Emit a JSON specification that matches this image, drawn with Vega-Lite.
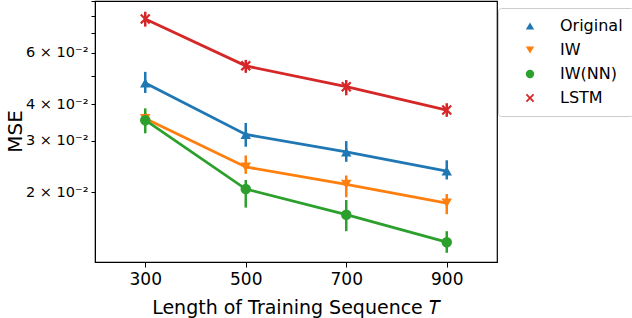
{
  "$schema": "https://vega.github.io/schema/vega-lite/v6.json",
  "width": 402,
  "height": 261,
  "autosize": {"type": "none"},
  "padding": {"left": 95, "top": 1, "right": 135, "bottom": 56},
  "background": "white",
  "config": {
    "font": "DejaVu Sans",
    "view": {"stroke": "black", "strokeWidth": 1.2},
    "axis": {"grid": false, "domainColor": "black", "tickColor": "black", "labelColor": "black", "titleColor": "black", "labelFont": "DejaVu Sans", "titleFont": "DejaVu Sans", "titleFontWeight": "normal"},
    "legend": {"title": null, "orient": "none", "legendX": 403, "legendY": 7, "padding": 10, "symbolOffset": 14, "labelOffset": 22, "labelFontSize": 16, "labelFont": "DejaVu Sans", "labelColor": "black", "rowPadding": 8, "strokeColor": "#cccccc", "fillColor": "white", "cornerRadius": 3, "symbolSize": 70, "symbolStrokeWidth": 0}
  },
  "data": {
    "values": [
      {"T": 300, "series": "Original", "mse": 0.0473, "lo": 0.0437, "hi": 0.0516},
      {"T": 500, "series": "Original", "mse": 0.0315, "lo": 0.0286, "hi": 0.0345},
      {"T": 700, "series": "Original", "mse": 0.02745, "lo": 0.0254, "hi": 0.0299},
      {"T": 900, "series": "Original", "mse": 0.02362, "lo": 0.0221, "hi": 0.0257},
      {"T": 300, "series": "IW", "mse": 0.0357, "lo": 0.0339, "hi": 0.0373},
      {"T": 500, "series": "IW", "mse": 0.02438, "lo": 0.0231, "hi": 0.0267},
      {"T": 700, "series": "IW", "mse": 0.02127, "lo": 0.0192, "hi": 0.0228},
      {"T": 900, "series": "IW", "mse": 0.01835, "lo": 0.0168, "hi": 0.0197},
      {"T": 300, "series": "IW(NN)", "mse": 0.03526, "lo": 0.0318, "hi": 0.0387},
      {"T": 500, "series": "IW(NN)", "mse": 0.02049, "lo": 0.0177, "hi": 0.022},
      {"T": 700, "series": "IW(NN)", "mse": 0.01674, "lo": 0.0147, "hi": 0.0188},
      {"T": 900, "series": "IW(NN)", "mse": 0.01348, "lo": 0.0124, "hi": 0.0147},
      {"T": 300, "series": "LSTM", "mse": 0.0783, "lo": 0.0737, "hi": 0.0829},
      {"T": 500, "series": "LSTM", "mse": 0.0541, "lo": 0.0512, "hi": 0.0567},
      {"T": 700, "series": "LSTM", "mse": 0.0459, "lo": 0.0429, "hi": 0.0484},
      {"T": 900, "series": "LSTM", "mse": 0.0382, "lo": 0.0362, "hi": 0.0403}
    ]
  },
  "encoding": {
    "x": {
      "field": "T", "type": "quantitative",
      "scale": {"domain": [200, 1000], "nice": false, "zero": false},
      "axis": {"values": [300, 500, 700, 900], "labelFontSize": 17, "tickSize": 5, "labelPadding": 4, "title": "Length of Training Sequence 𝑇", "titleFontSize": 19, "titleY": 51, "titleBaseline": "alphabetic", "titleX": 201, "labelFlush": false}
    },
    "color": {
      "field": "series", "type": "nominal",
      "scale": {"domain": ["Original", "IW", "IW(NN)", "LSTM"], "range": ["#1f77b4", "#ff7f0e", "#2ca02c", "#d62728"]}
    }
  },
  "layer": [
    {
      "mark": {"type": "line", "strokeWidth": 2.8},
      "encoding": {
        "y": {
          "field": "mse", "type": "quantitative",
          "scale": {"type": "log", "domain": [0.01153, 0.0902], "nice": false},
          "axis": {"values": [0.02, 0.03, 0.04, 0.05, 0.06, 0.07, 0.08, 0.09], "labelExpr": "round(datum.value*100)==2?'2 × 10⁻²':round(datum.value*100)==3?'3 × 10⁻²':round(datum.value*100)==4?'4 × 10⁻²':round(datum.value*100)==6?'6 × 10⁻²':''", "labelFontSize": 14.5, "tickSize": 4, "labelPadding": 3, "title": "MSE", "titleFontSize": 20, "titleX": -80, "titleY": 130, "titleAngle": -90, "titleBaseline": "middle", "titleAlign": "center"}
        },
        "detail": {"field": "series"}
      }
    },
    {
      "mark": {"type": "rule", "strokeWidth": 2.5},
      "encoding": {
        "y": {"field": "lo", "type": "quantitative"},
        "y2": {"field": "hi"}
      }
    },
    {
      "mark": {"type": "point", "filled": true, "opacity": 1},
      "encoding": {
        "y": {"field": "mse", "type": "quantitative"},
        "shape": {
          "field": "series", "type": "nominal",
          "scale": {"domain": ["Original", "IW", "IW(NN)", "LSTM"], "range": ["triangle-up", "triangle-down", "circle", "M-1,-0.7L-0.7,-1L0,-0.3L0.7,-1L1,-0.7L0.3,0L1,0.7L0.7,1L0,0.3L-0.7,1L-1,0.7L-0.3,0Z"]}
        },
        "size": {"value": 110}
      }
    }
  ]
}
